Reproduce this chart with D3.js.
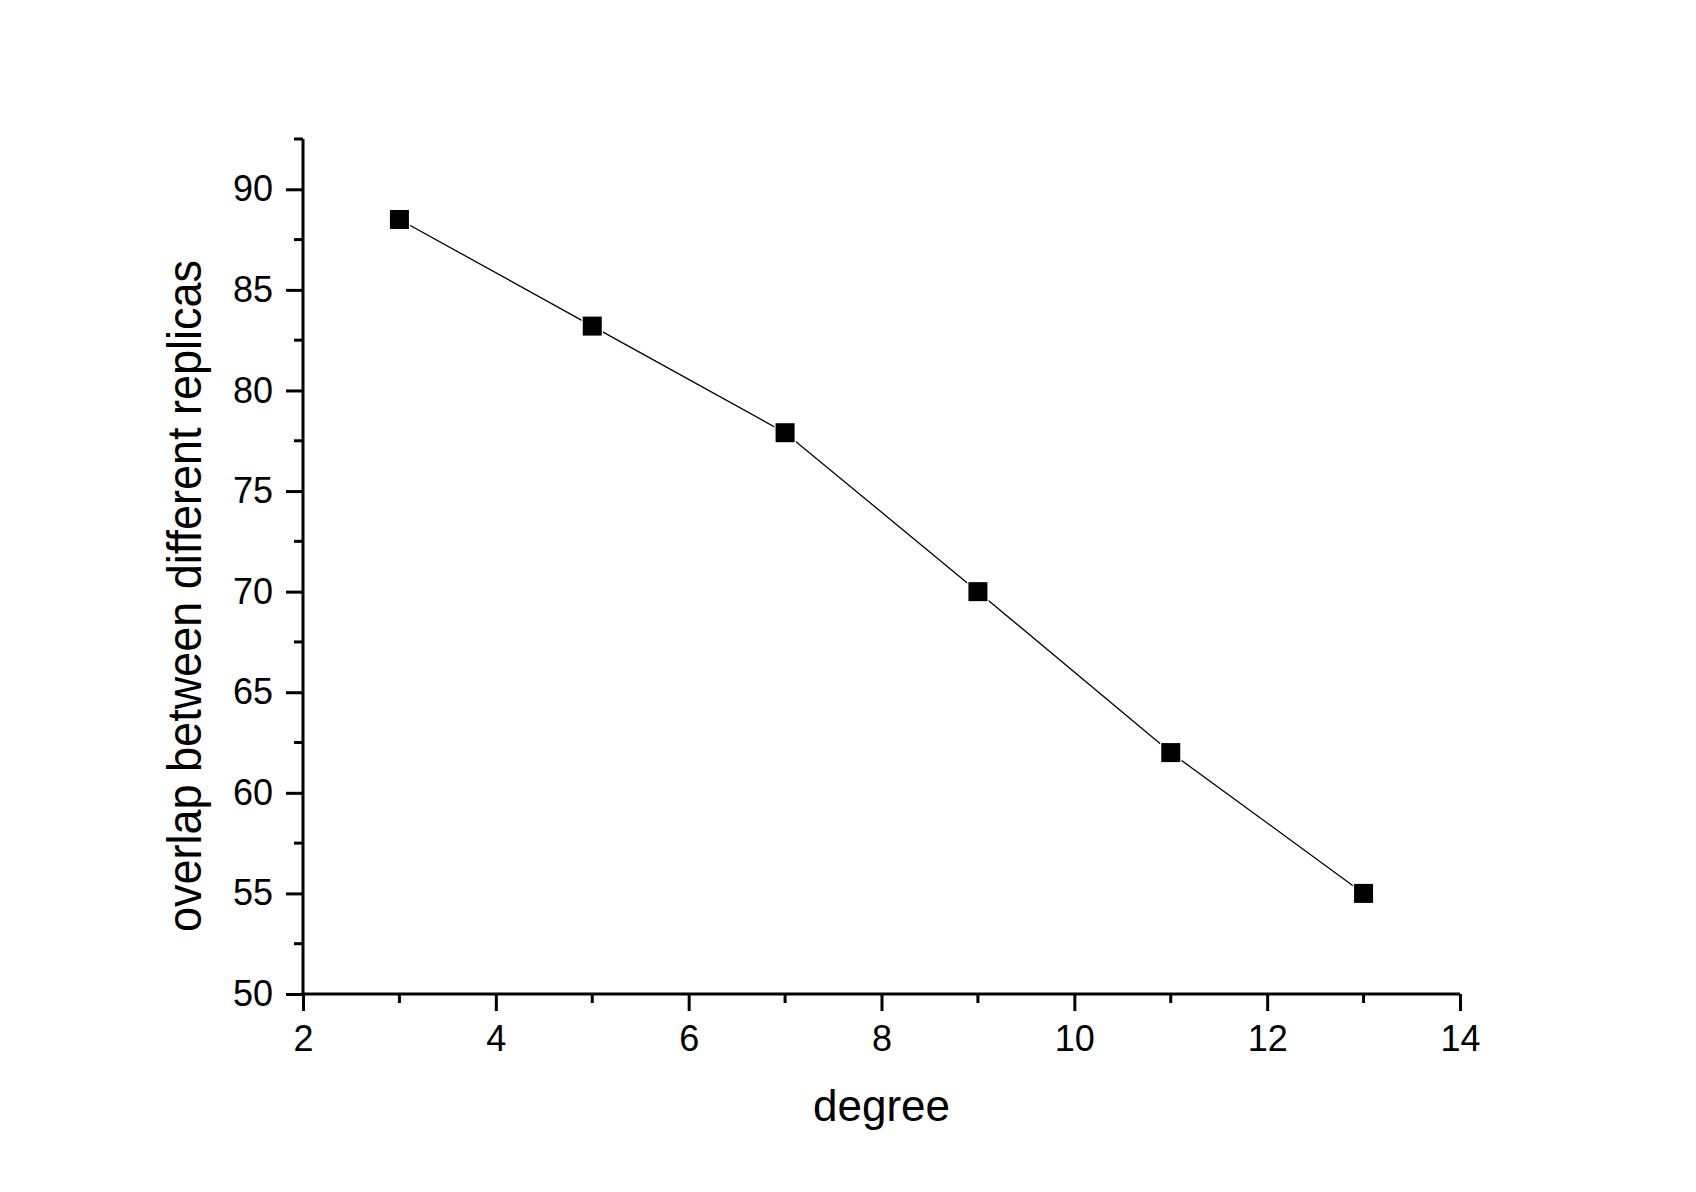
<!DOCTYPE html>
<html>
<head>
<meta charset="utf-8">
<script src="https://cdn.jsdelivr.net/npm/d3@7"></script>
<style>
  html, body { margin: 0; padding: 0; background: #fff; }
  svg text { font-family: Arial, "Liberation Sans", sans-serif; fill: #000; }
</style>
</head>
<body>
<svg id="chart" width="1696" height="1192"></svg>
<script>
// Data
const degrees = [3, 5, 7, 9, 11, 13];
const overlap = [88.5, 83.2, 77.9, 70.0, 62.0, 55.0];
const xTicks = [2, 4, 6, 8, 10, 12, 14];
const yTicks = [50, 55, 60, 65, 70, 75, 80, 85, 90];
const xMinor = [3, 5, 7, 9, 11, 13];
const yMinor = [52.5, 57.5, 62.5, 67.5, 72.5, 77.5, 82.5, 87.5, 92.5];

const svg = d3.select('#chart');

// Plot frame (left, right, top, bottom)
const L = 303, R = 1460, T = 139, B = 994;

const x = d3.scaleLinear().domain([2, 14]).range([L, R]);
const y = d3.scaleLinear().domain([50, 92.5]).range([B, T]);

// Axes
const xAxis = svg.append('g').attr('transform', `translate(0,${B})`)
  .call(d3.axisBottom(x).tickValues(xTicks).tickSize(17).tickPadding(14).tickFormat(d3.format('d')));
const yAxis = svg.append('g').attr('transform', `translate(${L},0)`)
  .call(d3.axisLeft(y).tickValues(yTicks).tickSize(17).tickPadding(13).tickFormat(d3.format('d')));

// minor ticks
xAxis.selectAll('.minor').data(xMinor).enter().append('line')
  .attr('x1', d => x(d)).attr('x2', d => x(d)).attr('y1', 0).attr('y2', 9)
  .attr('stroke', '#000').attr('stroke-width', 3);
yAxis.selectAll('.minor').data(yMinor).enter().append('line')
  .attr('y1', d => y(d)).attr('y2', d => y(d)).attr('x1', 0).attr('x2', -9)
  .attr('stroke', '#000').attr('stroke-width', 3);

[xAxis, yAxis].forEach(a => {
  a.select('.domain').attr('stroke', '#000').attr('stroke-width', 3)
    .attr('d', a === xAxis ? `M${L - 1.5},0H${R}` : `M0,${B + 1.5}V${T}`);
  a.selectAll('.tick line').attr('stroke', '#000').attr('stroke-width', 3);
  a.selectAll('.tick text').attr('font-size', 36).attr('fill', '#000')
    .style('font-family', 'Arial, "Liberation Sans", sans-serif');
});

// Axis titles
svg.append('text')
  .attr('x', (L + R) / 2).attr('y', 1121)
  .attr('text-anchor', 'middle').attr('font-size', 44)
  .text('degree');

// y title glyphs are slightly taller than wide in the source
svg.append('text')
  .attr('transform', 'translate(201,596) scale(1.08,1) rotate(-90)')
  .attr('text-anchor', 'middle').attr('font-size', 45)
  .text('overlap between different replicas');

// Series line
const pts = degrees.map((d, i) => [d, overlap[i]]);
svg.append('path')
  .datum(pts)
  .attr('fill', 'none').attr('stroke', '#000').attr('stroke-width', 1.3)
  .attr('d', d3.line().x(d => x(d[0])).y(d => y(d[1])));

// Square markers
const s = 19;
svg.append('g').selectAll('rect').data(pts).enter().append('rect')
  .attr('x', d => x(d[0]) - s / 2).attr('y', d => y(d[1]) - s / 2)
  .attr('width', s).attr('height', s)
  .attr('fill', '#000').attr('stroke', '#fff').attr('stroke-width', 2.5)
  .attr('paint-order', 'stroke');
</script>
</body>
</html>
